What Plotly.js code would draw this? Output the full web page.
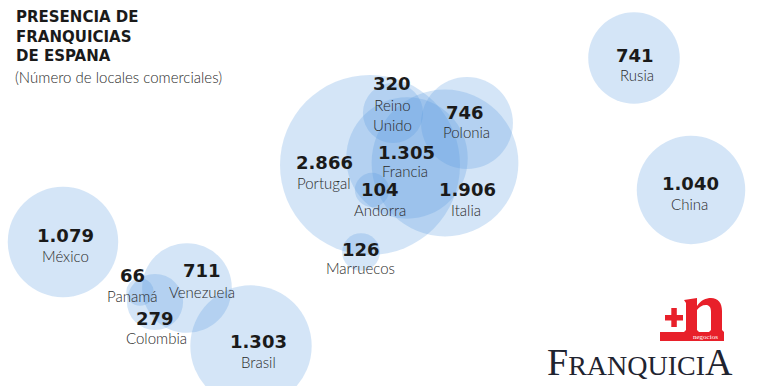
<!DOCTYPE html>
<html>
<head>
<meta charset="utf-8">
<script src="https://cdn.plot.ly/plotly-3.0.1.min.js"></script>
<style>html,body{margin:0;padding:0;background:#fff;}#chart{width:760px;height:386px;}</style>
</head>
<body>
<div id="chart"></div>
<script>
// Data
const countries = ['Rusia','China','México','Panamá','Venezuela','Colombia','Brasil','Portugal','Italia','Francia','Polonia','Reino<br>Unido','Andorra','Marruecos'];
const locales   = [741, 1040, 1079, 66, 711, 279, 1303, 2866, 1906, 1305, 746, 320, 104, 126];
// schematic map position of each country (chart units)
const mapX = [634, 691, 63, 140, 187, 155, 251, 370, 445, 407, 467, 393, 372, 361];
const mapY = [58, 190, 242, 292, 288, 302, 346, 165, 163, 158, 123, 113, 190, 252];
// label positions
const numX  = [635, 690, 65, 132, 202, 155, 258, 324, 467, 406, 465, 392, 380, 361];
const numY  = [55, 183, 235, 275, 270, 318, 341, 162, 189, 152, 112, 83, 189, 249];
const nameX = [637, 689, 65, 132, 202, 156, 258, 324, 466, 405, 466, 392, 380, 360];
const nameY = [75, 204, 256, 296, 292, 338, 362, 183, 210, 171, 132, 115, 210, 268];
const titleLines = ['PRESENCIA DE', 'FRANQUICIAS', 'DE ESPANA'];
const subtitle = '(Número de locales comerciales)';

function fmt(v){ return String(v).replace(/\B(?=(\d{3})+(?!\d))/g, '.'); }

const maxR = 90;
const sizeref = Math.max(...locales) / (2 * maxR * maxR);

const trace = {
  type: 'scatter', mode: 'markers',
  x: mapX, y: mapY, text: countries,
  marker: { size: locales, sizemode: 'area', sizeref: sizeref,
            color: 'rgba(84,152,222,0.36)', line: { width: 0 } },
  hoverinfo: 'skip'
};

const annotations = [];
locales.forEach((v, i) => {
  annotations.push({ x: numX[i], y: numY[i], xref: 'x', yref: 'y', text: fmt(v), showarrow: false,
    xanchor: 'center', yanchor: 'middle',
    font: { family: 'DejaVu Sans', size: 18, weight: 700, color: '#1a1a1a' } });
  annotations.push({ x: nameX[i], y: nameY[i], xref: 'x', yref: 'y', text: countries[i], showarrow: false,
    xanchor: 'center', yanchor: 'middle',
    font: { family: 'Lato', size: 15, weight: 300, color: '#2a2a2a' } });
});
annotations.push({ x: 14, y: 36, xref: 'x', yref: 'y', text: titleLines.join('<br>'),
  showarrow: false, xanchor: 'left', yanchor: 'middle', align: 'left',
  font: { family: 'DejaVu Sans', size: 15, weight: 700, color: '#1a1a1a' } });
annotations.push({ x: 13, y: 77, xref: 'x', yref: 'y', text: subtitle, showarrow: false,
  xanchor: 'left', yanchor: 'middle', font: { family: 'Lato', size: 15, weight: 300, color: '#2a2a2a' } });
// logo texts
annotations.push({ x: 720, y: 337, xref: 'x', yref: 'y', text: 'negocios', showarrow: false,
  xanchor: 'right', yanchor: 'middle', font: { family: 'Liberation Serif', size: 7, color: '#ffffff' } });
annotations.push({ x: 545, y: 362, xref: 'x', yref: 'y',
  text: '<span style="font-size:38px">F</span>RANQUICI<span style="font-size:38px">A</span>',
  showarrow: false, xanchor: 'left', yanchor: 'middle',
  font: { family: 'Liberation Serif', size: 28, color: '#1f2430' } });

const red = '#e8202a';
const shapes = [
  { type: 'rect', xref: 'x', yref: 'y', x0: 660, x1: 724, y0: 332, y1: 341, fillcolor: red, line: { width: 0 } },
  { type: 'rect', xref: 'x', yref: 'y', x0: 665, x1: 683, y0: 315, y1: 320.5, fillcolor: red, line: { width: 0 } },
  { type: 'rect', xref: 'x', yref: 'y', x0: 671.3, x1: 676.8, y0: 308, y1: 327, fillcolor: red, line: { width: 0 } },
  { type: 'path', xref: 'x', yref: 'y', fillcolor: red, line: { width: 0 },
    path: 'M684,300 L697,298 L697,306 C701,300 706,298 711,298 C718,298 722,303 722,311 L722,330 L724,332 L709,332 L711,330 L711,312 C711,307 709,305 706,305 C702,305 699,307 697,310 L697,330 L699,332 L684,332 L686,330 L686,303 Z' }
];

const layout = {
  width: 760, height: 386,
  margin: { l: 0, r: 0, t: 0, b: 0 },
  paper_bgcolor: '#ffffff', plot_bgcolor: '#ffffff',
  showlegend: false,
  xaxis: { range: [0, 760], visible: false, fixedrange: true },
  yaxis: { range: [386, 0], visible: false, fixedrange: true },
  annotations: annotations,
  shapes: shapes
};

Plotly.newPlot('chart', [trace], layout, { displayModeBar: false, staticPlot: true });
</script>
</body>
</html>
